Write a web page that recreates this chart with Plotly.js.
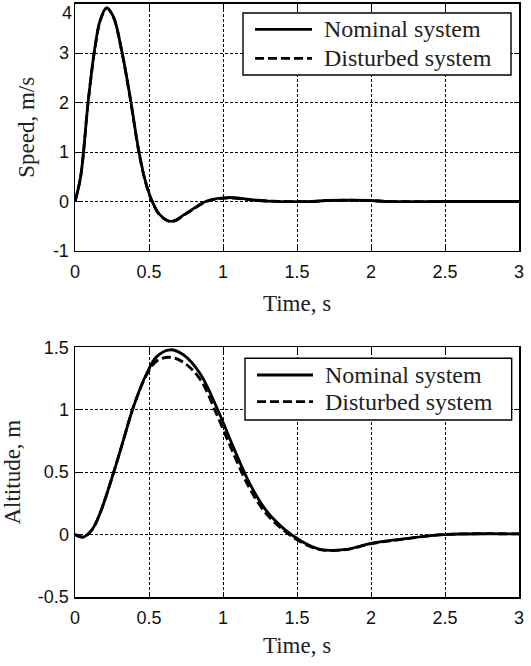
<!DOCTYPE html>
<html>
<head>
<meta charset="utf-8">
<script src="https://cdn.plot.ly/plotly-3.0.1.min.js"></script>
<style>html,body{margin:0;padding:0;background:#fff;}#chart{width:531px;height:666px;}</style>
</head>
<body>
<div id="chart"></div>
<script>
// Speed (top panel)
const speedTime = [0, 0.038, 0.09, 0.135, 0.17, 0.214, 0.26, 0.315, 0.372, 0.43, 0.473, 0.518, 0.574, 0.653, 0.755, 0.89, 1.025, 1.2, 1.3, 1.6, 1.7, 2.0, 2.1, 2.5, 3.0];
const speedNominal = [0, 0.5, 2.05, 3.12, 3.66, 3.92, 3.73, 3.06, 2.12, 1.04, 0.44, 0.03, -0.27, -0.40, -0.23, 0.01, 0.08, 0.035, 0.01, 0, 0.02, 0.02, 0, 0, 0];
const speedDisturbed = [0, 0.5, 2.04, 3.11, 3.65, 3.91, 3.72, 3.05, 2.10, 1.02, 0.43, 0.02, -0.28, -0.41, -0.24, 0.00, 0.07, 0.03, 0.01, 0, 0.02, 0.02, 0, 0, 0];

// Altitude (bottom panel)
const altTime = [0, 0.056, 0.113, 0.169, 0.259, 0.327, 0.394, 0.484, 0.552, 0.642, 0.732, 0.845, 0.957, 1.07, 1.18, 1.29, 1.41, 1.52, 1.655, 1.835, 1.993, 2.196, 2.49, 3.0];
const altNominal = [0, -0.02, 0.035, 0.17, 0.49, 0.757, 1.02, 1.29, 1.425, 1.48, 1.44, 1.29, 1.02, 0.70, 0.41, 0.195, 0.048, -0.046, -0.118, -0.118, -0.072, -0.038, 0, 0.005];
const altDisturbed = [0, -0.02, 0.035, 0.17, 0.49, 0.757, 1.02, 1.28, 1.39, 1.42, 1.38, 1.245, 0.965, 0.65, 0.37, 0.17, 0.035, -0.055, -0.12, -0.12, -0.075, -0.04, 0, 0.005];

const seriesNames = ['Nominal system', 'Disturbed system'];
const xTicks = [0, 0.5, 1, 1.5, 2, 2.5, 3];
const speedTicks = [-1, 0, 1, 2, 3, 4];
const altTicks = [-0.5, 0, 0.5, 1, 1.5];

const lineW = 2.8;
const dashPat = '9px,4px';
const traces = [
  {x: speedTime, y: speedDisturbed, name: seriesNames[1], mode: 'lines', line: {color: '#000', width: lineW, dash: dashPat, shape: 'spline'}, xaxis: 'x', yaxis: 'y', showlegend: false},
  {x: speedTime, y: speedNominal, name: seriesNames[0], mode: 'lines', line: {color: '#000', width: lineW, shape: 'spline'}, xaxis: 'x', yaxis: 'y', showlegend: false},
  {x: altTime, y: altDisturbed, name: seriesNames[1], mode: 'lines', line: {color: '#000', width: lineW, dash: dashPat, shape: 'spline'}, xaxis: 'x2', yaxis: 'y2', showlegend: false},
  {x: altTime, y: altNominal, name: seriesNames[0], mode: 'lines', line: {color: '#000', width: lineW, shape: 'spline'}, xaxis: 'x2', yaxis: 'y2', showlegend: false}
];

const tickFont = {family: '"Liberation Sans", Arial, sans-serif', size: 18, color: '#111'};
const titleFont = {family: '"Liberation Serif", "Times New Roman", serif', size: 23, color: '#222'};
const legFont = {family: '"Liberation Serif", "Times New Roman", serif', size: 24, color: '#222'};

function xAx(anchor, standoff) {
  return {
    anchor: anchor, domain: [0, 1], range: [0, 3], tickvals: xTicks, ticktext: xTicks.map(String),
    showline: true, linecolor: '#000', linewidth: 1.5, mirror: 'ticks',
    ticks: 'inside', ticklen: 5, tickcolor: '#000', tickfont: tickFont, ticklabelstandoff: 4,
    ticklabeloverflow: 'allow',
    showgrid: true, gridcolor: '#000', gridwidth: 1, griddash: '3px,2px',
    zeroline: false, fixedrange: true,
    title: {text: 'Time, s', font: titleFont, standoff: standoff}
  };
}
function yAx(anchor, domain, range, ticks, ticktext, title) {
  return {
    anchor: anchor, domain: domain, range: range, tickvals: ticks, ticktext: ticktext,
    showline: true, linecolor: '#000', linewidth: 1.5, mirror: 'ticks',
    ticks: 'inside', ticklen: 5, tickcolor: '#000', tickfont: tickFont, ticklabelstandoff: 1,
    ticklabeloverflow: 'allow',
    showgrid: true, gridcolor: '#000', gridwidth: 1, griddash: '3px,2px',
    zeroline: false, fixedrange: true,
    title: {text: title, font: titleFont, standoff: 12}
  };
}

// Top tick label of the speed axis sits at the page edge: draw it as a text just below its gridline
const topSpeed = speedTicks[speedTicks.length - 1];
const speedTickText = speedTicks.map(v => v === topSpeed ? '' : String(v));
const topTickAnn = {
  xref: 'paper', yref: 'y', x: 0, y: topSpeed, xanchor: 'right', yanchor: 'top',
  xshift: -1, yshift: 3, text: String(topSpeed), showarrow: false, font: tickFont
};

// Custom legend boxes (paper coordinates)
function legendParts(box, rows, lineX, textX) {
  const shapes = [
    {type: 'rect', xref: 'paper', yref: 'paper', x0: box[0], x1: box[1], y0: box[2], y1: box[3],
     line: {color: '#000', width: 1.4}, fillcolor: '#fff', layer: 'above'},
    {type: 'line', xref: 'paper', yref: 'paper', x0: lineX[0], x1: lineX[1], y0: rows[0], y1: rows[0],
     line: {color: '#000', width: lineW}, layer: 'above'},
    {type: 'line', xref: 'paper', yref: 'paper', x0: lineX[0], x1: lineX[1], y0: rows[1], y1: rows[1],
     line: {color: '#000', width: lineW, dash: dashPat}, layer: 'above'}
  ];
  const anns = seriesNames.map((n, i) => ({
    xref: 'paper', yref: 'paper', x: textX, y: rows[i], xanchor: 'left', yanchor: 'middle',
    text: n, showarrow: false, font: legFont
  }));
  return {shapes, anns};
}
const leg1 = legendParts([0.3784, 0.982, 0.8788, 0.9832], [0.9557, 0.9069], [0.4054, 0.5338], 0.556);
const leg2 = legendParts([0.3829, 0.9835, 0.298, 0.4019], [0.3737, 0.3288], [0.41, 0.536], 0.558);

const layout = {
  width: 531, height: 666,
  margin: {l: 75, r: 12, t: 3, b: 69},
  paper_bgcolor: '#fff', plot_bgcolor: '#fff',
  xaxis: xAx('y', 14),
  yaxis: yAx('x', [0.5825, 0.999], [-1, 4], speedTicks, speedTickText, 'Speed, m/s'),
  xaxis2: xAx('y2', 10),
  yaxis2: yAx('x2', [0, 0.4204], [-0.5, 1.5], altTicks, altTicks.map(String), 'Altitude, m'),
  shapes: leg1.shapes.concat(leg2.shapes),
  annotations: leg1.anns.concat(leg2.anns).concat([topTickAnn]),
  showlegend: false
};

Plotly.newPlot('chart', traces, layout, {displayModeBar: false, staticPlot: true});
</script>
</body>
</html>
